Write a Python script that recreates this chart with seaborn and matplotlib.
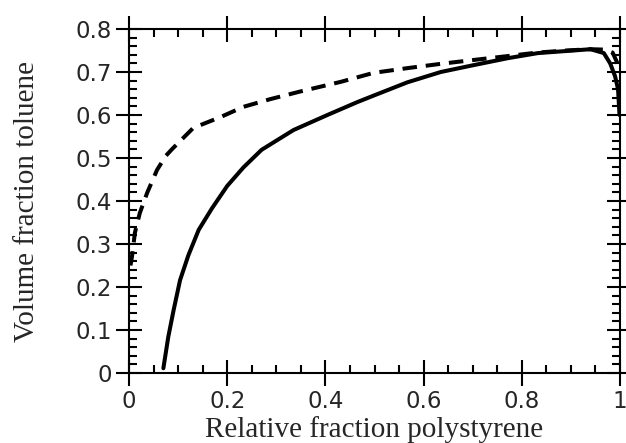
import numpy as np
import pandas as pd
import matplotlib
matplotlib.use("Agg")
import matplotlib.pyplot as plt
import seaborn as sns
from matplotlib.ticker import MultipleLocator

# Solid curve
solid_x = [0.070, 0.080, 0.091, 0.104, 0.121, 0.142, 0.169, 0.200, 0.233, 0.270,
           0.335, 0.404, 0.465, 0.498, 0.567, 0.635, 0.702, 0.771, 0.833, 0.893,
           0.940, 0.967, 0.980, 0.990, 0.996, 0.999]
solid_y = [0.011, 0.084, 0.147, 0.216, 0.274, 0.333, 0.383, 0.435, 0.478, 0.519,
           0.565, 0.600, 0.630, 0.645, 0.676, 0.700, 0.716, 0.732, 0.744, 0.749,
           0.753, 0.744, 0.720, 0.690, 0.660, 0.600]
# Dashed curve
dash_x = [0.003, 0.006, 0.012, 0.022, 0.037, 0.057, 0.075, 0.088, 0.131, 0.186,
          0.233, 0.288, 0.350, 0.431, 0.498, 0.567, 0.635, 0.702, 0.771, 0.830,
          0.890, 0.940, 0.970, 0.985, 0.995]
dash_y = [0.250, 0.270, 0.326, 0.372, 0.419, 0.472, 0.505, 0.521, 0.570, 0.595,
          0.619, 0.637, 0.655, 0.677, 0.698, 0.709, 0.719, 0.728, 0.737, 0.745,
          0.750, 0.753, 0.752, 0.745, 0.720]

x_ticks = [0, 0.2, 0.4, 0.6, 0.8, 1]
x_labels = ["0", "0.2", "0.4", "0.6", "0.8", "1"]
y_ticks = [0, 0.1, 0.2, 0.3, 0.4, 0.5, 0.6, 0.7, 0.8]
y_labels = ["0", "0.1", "0.2", "0.3", "0.4", "0.5", "0.6", "0.7", "0.8"]

sns.set_style("ticks")
plt.rcParams['font.family'] = ['DejaVu Sans']

fig = plt.figure(figsize=(6.26, 4.43), dpi=100)
ax = fig.add_axes([129/626, 70/443, 491/626, 344/443])

df_s = pd.DataFrame({"x": solid_x, "y": solid_y})
df_d = pd.DataFrame({"x": dash_x, "y": dash_y})
sns.lineplot(data=df_s, x="x", y="y", sort=False, ax=ax, color="black", lw=2.9,
             solid_capstyle="round", solid_joinstyle="round")
sns.lineplot(data=df_d, x="x", y="y", sort=False, ax=ax, color="black", lw=2.9,
             linestyle=(0, (3.6, 2.2)), dash_capstyle="butt")

ax.set_xlim(0, 1)
ax.set_ylim(0, 0.8)
ax.set_xticks(x_ticks)
ax.set_xticklabels(x_labels)
ax.set_yticks(y_ticks)
ax.set_yticklabels(y_labels)
ax.xaxis.set_minor_locator(MultipleLocator(0.05))
ax.yaxis.set_minor_locator(MultipleLocator(0.02))

for s in ax.spines.values():
    s.set_visible(True)
    s.set_linewidth(1.5)
    s.set_color("black")

ax.tick_params(which="major", direction="inout", length=19, width=1.5,
               top=True, right=True, labelsize=16.5, pad=3, color="black")
ax.tick_params(which="minor", direction="in", length=5.5, width=1.5,
               top=True, right=True, color="black")

ax.set_xlabel("Relative fraction polystyrene", family=["Liberation Serif"],
              fontsize=21, labelpad=2)
ax.set_ylabel("Volume fraction toluene", family=["Liberation Serif"],
              fontsize=21, labelpad=25)

fig.savefig("out.png", dpi=100)
